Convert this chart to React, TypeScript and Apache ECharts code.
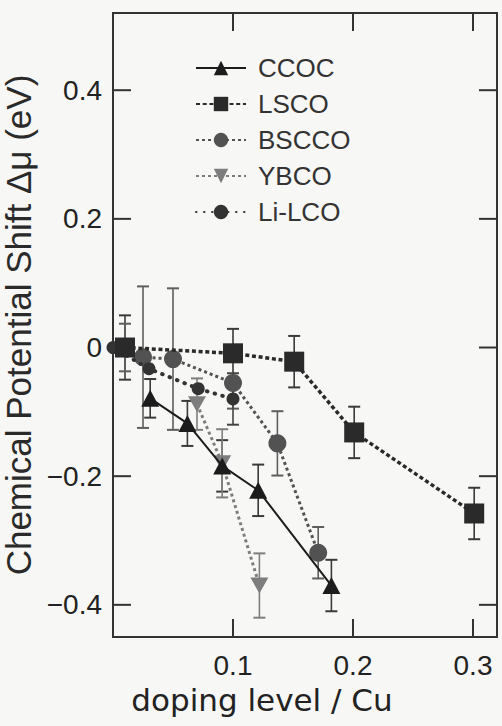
import React, { useEffect, useRef } from "react";
import * as echarts from "echarts";

// ---- data ----
const seriesNames = ["CCOC", "LSCO", "BSCCO", "YBCO", "Li-LCO"];

const ccocX = [0.031, 0.062, 0.091, 0.121, 0.182];
const ccocY = [-0.079, -0.118, -0.184, -0.222, -0.37];
const ccocErr = [0.03, 0.035, 0.04, 0.04, 0.04];

const lscoX = [0.01, 0.1, 0.151, 0.201, 0.301];
const lscoY = [0, -0.009, -0.022, -0.132, -0.258];
const lscoErr = [0.05, 0.038, 0.04, 0.04, 0.04];

const bsccoX = [0.01, 0.025, 0.05, 0.1, 0.137, 0.171];
const bsccoY = [0, -0.015, -0.018, -0.055, -0.149, -0.319];
const bsccoErr = [0.037, 0.11, 0.11, 0.04, 0.05, 0.04];

const ybcoX = [0.07, 0.091, 0.122];
const ybcoY = [-0.088, -0.18, -0.37];
const ybcoErr = [0.04, 0.053, 0.05];

const lilcoX = [0, 0.03, 0.071, 0.1];
const lilcoY = [0, -0.033, -0.064, -0.08];
const lilcoErr = [0, 0, 0, 0.04];

const xTicks = [0.1, 0.2, 0.3];
const xTickLabels = ["0.1", "0.2", "0.3"];
const yTicks = [-0.4, -0.2, 0, 0.2, 0.4];
const yTickLabels = ["\u22120.4", "\u22120.2", "0", "0.2", "0.4"];

const xRange = [0, 0.32];
const yRange = [-0.45, 0.52];

const xTitle = "doping level / Cu";
const yTitle = "Chemical Potential Shift \u0394\u03bc (eV)";

const zip = (xs: number[], ys: number[]) => xs.map((x, i) => [x, ys[i]]);
const zip3 = (xs: number[], ys: number[], es: number[]) =>
  xs.map((x, i) => [x, ys[i], es[i]]);

const labelFor = (ticks: number[], labels: string[]) => (v: number) => {
  const i = ticks.findIndex((t) => Math.abs(t - v) < 1e-6);
  return i >= 0 ? labels[i] : "";
};

const errSeries = (name: string, data: number[][], color: string, z: number) => ({
  type: "custom",
  name: name + "-err",
  z,
  silent: true,
  encode: { x: 0, y: 1 },
  data,
  renderItem: (params: any, api: any) => {
    const x = api.value(0);
    const y = api.value(1);
    const e = api.value(2);
    if (!e) return null;
    const t = api.coord([x, y + e]);
    const b = api.coord([x, y - e]);
    const hw = 6;
    const st = { stroke: color, lineWidth: 1.6 };
    return {
      type: "group",
      children: [
        { type: "line", shape: { x1: t[0], y1: t[1], x2: b[0], y2: b[1] }, style: st },
        { type: "line", shape: { x1: t[0] - hw, y1: t[1], x2: t[0] + hw, y2: t[1] }, style: { ...st, lineWidth: 2 } },
        { type: "line", shape: { x1: b[0] - hw, y1: b[1], x2: b[0] + hw, y2: b[1] }, style: { ...st, lineWidth: 2 } },
      ],
    };
  },
});

// inward tick marks: each item is [x, y, dx, dy] at an axis edge, drawn through the scales as thin rects
const TICK_LEN = 18;
const TICK_W = 2;
const tickItems = [
  ...xTicks.map((v) => [v, yRange[0], 0, -1]),
  ...xTicks.map((v) => [v, yRange[1], 0, 1]),
  ...yTicks.map((v) => [xRange[0], v, 1, 0]),
  ...yTicks.map((v) => [xRange[1], v, -1, 0]),
];
const tickSeries = {
  type: "custom",
  name: "frame-ticks",
  z: 2,
  silent: true,
  encode: { x: 0, y: 1 },
  data: tickItems,
  renderItem: (params: any, api: any) => {
    const p = api.coord([api.value(0), api.value(1)]);
    const dx = api.value(2);
    const dy = api.value(3);
    const shape =
      dx !== 0
        ? { x: dx > 0 ? p[0] : p[0] - TICK_LEN, y: p[1] - TICK_W / 2, width: TICK_LEN, height: TICK_W }
        : { x: p[0] - TICK_W / 2, y: dy > 0 ? p[1] : p[1] - TICK_LEN, width: TICK_W, height: TICK_LEN };
    return {
      type: "group",
      children: [{ type: "rect", shape, style: { fill: "#333" } }],
    };
  },
};

const downTri = "path://M0,0L20,0L10,17.3Z";

export default function App() {
  const ref = useRef<HTMLDivElement>(null);
  useEffect(() => {
    if (!ref.current) return;
    const chart = echarts.init(ref.current, undefined, { renderer: "svg" });
    const option: any = {
      animation: false,
      backgroundColor: "#f7f7f5",
      grid: {
        left: 113,
        right: 5,
        top: 13,
        bottom: 89,
        containLabel: false,
        outerBoundsMode: "none",
        show: true,
        borderColor: "#333",
        borderWidth: 2,
        backgroundColor: "transparent",
      },
      legend: {
        data: seriesNames,
        orient: "vertical",
        left: 190,
        top: 50,
        itemWidth: 50,
        itemHeight: 18,
        itemGap: 10,
        textStyle: { fontFamily: "Liberation Sans", fontSize: 26, color: "#333", padding: [0, 0, 0, 7] },
      },
      xAxis: {
        type: "value",
        min: xRange[0],
        max: xRange[1],
        position: "bottom",
        axisLine: { show: false, onZero: false },
        axisTick: { show: false },
        splitLine: { show: false },
        axisLabel: {
          customValues: xTicks,
          formatter: labelFor(xTicks, xTickLabels),
          fontFamily: "Liberation Sans",
          fontSize: 28,
          color: "#222",
          margin: 14,
        },
        name: xTitle,
        nameLocation: "middle",
        nameGap: 47,
        nameTextStyle: {
          fontFamily: "DejaVu Sans",
          fontSize: 31,
          color: "#222",
          padding: [0, 86, 0, 0],
        },
      },
      yAxis: {
        type: "value",
        min: yRange[0],
        max: yRange[1],
        position: "left",
        axisLine: { show: false, onZero: false },
        axisTick: { show: false },
        splitLine: { show: false },
        axisLabel: {
          customValues: yTicks,
          formatter: labelFor(yTicks, yTickLabels),
          fontFamily: "Liberation Sans",
          fontSize: 28,
          color: "#222",
          margin: 11,
        },
        name: yTitle,
        nameLocation: "middle",
        nameGap: 62,
        nameRotate: 90,
        nameTextStyle: { fontFamily: "Liberation Sans", fontSize: 35, color: "#2a2a2a" },
      },
      series: [
        tickSeries,
        errSeries("CCOC", zip3(ccocX, ccocY, ccocErr), "#3a3a3a", 1),
        errSeries("LSCO", zip3(lscoX, lscoY, lscoErr), "#3a3a3a", 1),
        errSeries("BSCCO", zip3(bsccoX, bsccoY, bsccoErr), "#5e5e5e", 1),
        errSeries("YBCO", zip3(ybcoX, ybcoY, ybcoErr), "#7e7e7e", 1),
        errSeries("Li-LCO", zip3(lilcoX, lilcoY, lilcoErr), "#444", 1),
        {
          type: "line",
          name: "YBCO",
          z: 3,
          data: zip(ybcoX, ybcoY),
          symbol: downTri,
          symbolSize: [18, 16],
          itemStyle: { color: "#7d7d7d" },
          lineStyle: { color: "#7d7d7d", width: 3, type: [3, 3] },
        },
        {
          type: "line",
          name: "BSCCO",
          z: 4,
          data: zip(bsccoX, bsccoY),
          symbol: "circle",
          symbolSize: 18,
          itemStyle: { color: "#525252" },
          lineStyle: { color: "#525252", width: 3, type: [3, 3] },
        },
        {
          type: "line",
          name: "Li-LCO",
          z: 5,
          data: zip(lilcoX, lilcoY),
          symbol: "circle",
          symbolSize: 13,
          itemStyle: { color: "#333" },
          lineStyle: { color: "#333", width: 4, type: [0.5, 7.5], cap: "round" },
        },
        {
          type: "line",
          name: "CCOC",
          z: 6,
          data: zip(ccocX, ccocY),
          symbol: "triangle",
          symbolSize: [18, 17],
          itemStyle: { color: "#1c1c1c" },
          lineStyle: { color: "#1c1c1c", width: 2, type: "solid" },
        },
        {
          type: "line",
          name: "LSCO",
          z: 7,
          data: zip(lscoX, lscoY),
          symbol: "rect",
          symbolSize: 20,
          itemStyle: { color: "#2a2a2a" },
          lineStyle: { color: "#2a2a2a", width: 3.5, type: [4, 2.7] },
        },
      ],
    };
    chart.setOption(option);
    return () => chart.dispose();
  }, []);
  return (
    <div
      ref={ref}
      style={{ position: "fixed", left: 0, top: 0, width: 502, height: 726, background: "#f7f7f5" }}
    />
  );
}
